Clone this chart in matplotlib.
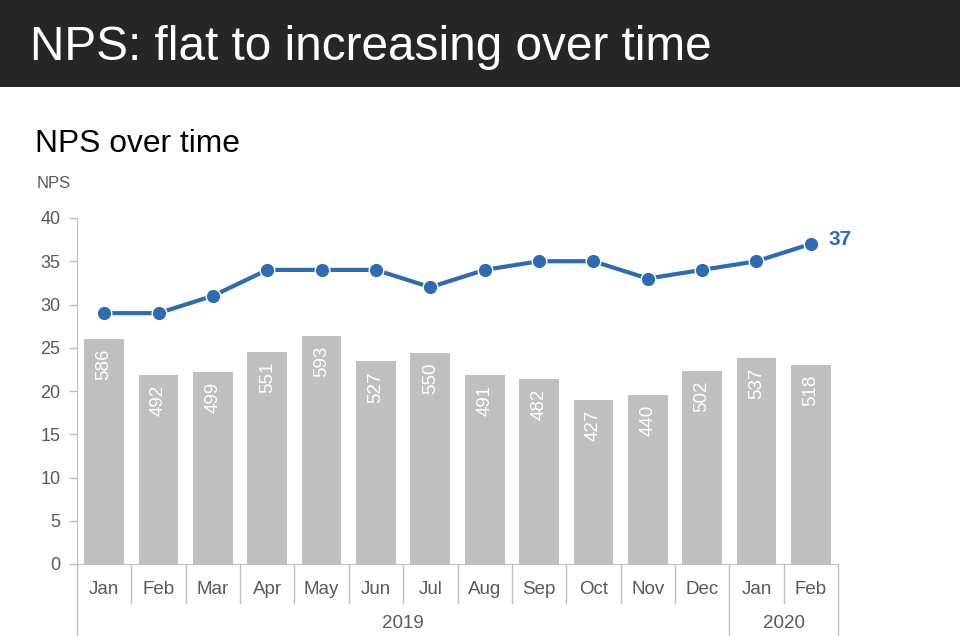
import matplotlib.pyplot as plt
from matplotlib.transforms import blended_transform_factory
from matplotlib.patches import Rectangle

plt.rcParams['font.family'] = ['Liberation Sans', 'DejaVu Sans']

# Data
months = ['Jan', 'Feb', 'Mar', 'Apr', 'May', 'Jun', 'Jul', 'Aug', 'Sep', 'Oct', 'Nov', 'Dec', 'Jan', 'Feb']
nps = [29, 29, 31, 34, 34, 34, 32, 34, 35, 35, 33, 34, 35, 37]
responses = [586, 492, 499, 551, 593, 527, 550, 491, 482, 427, 440, 502, 537, 518]
years = ['2019', '2020']
year_spans = [(0, 12), (12, 14)]  # month index ranges per year

blue = '#2E6BB3'
bar_grey = '#BFBFBF'
axis_grey = '#BFBFBF'
text_grey = '#595959'

fig = plt.figure(figsize=(9.6, 6.36), dpi=100)

# Dark header band
fig.patches.append(Rectangle((0, 1 - 87 / 636), 1, 87 / 636, transform=fig.transFigure,
                             facecolor='#262626', edgecolor='none', zorder=0))
fig.text(30 / 960, 1 - 47 / 636, 'NPS: flat to increasing over time', color='white',
         fontsize=34.4, va='center', ha='left')
fig.text(35 / 960, 1 - 144 / 636, 'NPS over time', color='black', fontsize=22.9,
         va='center', ha='left')
fig.text(37 / 960, 1 - 183 / 636, 'NPS', color=text_grey, fontsize=12, va='center', ha='left')

left, right, bottom, top = 77 / 960, 838 / 960, 1 - 564 / 636, 1 - 218 / 636
ax = fig.add_axes([left, bottom, right - left, top - bottom])
ax2 = ax.twinx()
ax.set_zorder(ax2.get_zorder() + 1)
ax.patch.set_visible(False)

x = list(range(len(months)))

# Bars: response counts on hidden secondary scale
ax2.bar(x, responses, width=0.73, color=bar_grey, edgecolor='none')
ax2.set_ylim(0, 900)
ax2.set_yticks([])
for xi, r in zip(x, responses):
    ax2.annotate(str(r), (xi, r), xytext=(0, -7), textcoords='offset points',
                 rotation=90, ha='center', va='top', color='white', fontsize=13.5)

# Line: NPS
ax.plot(x, nps, color=blue, linewidth=3, marker='o', markersize=10.5,
        markerfacecolor=blue, markeredgecolor='white', markeredgewidth=1, zorder=5)
ax.annotate(str(nps[-1]), (x[-1], nps[-1]), xytext=(13, 3), textcoords='offset points',
            ha='left', va='center', color=blue, fontsize=15, fontweight='bold')

ax.set_xlim(-0.5, len(months) - 0.5)
ax.set_ylim(0, 40)
ax.set_yticks(range(0, 41, 5))
ax.tick_params(axis='y', colors=axis_grey, labelcolor=text_grey, labelsize=13,
               length=6, width=1, pad=6)
ax.set_xticks([])

for a in (ax, ax2):
    for s in ['top', 'right']:
        a.spines[s].set_visible(False)
    a.spines['left'].set_color(axis_grey)
    a.spines['bottom'].set_color(axis_grey)
ax2.spines['left'].set_visible(False)
ax2.spines['bottom'].set_visible(False)

# Category axis: separators, month labels, year labels
trans = blended_transform_factory(ax.transData, ax.transAxes)
year_edges = {s - 0.5 for s, _ in year_spans} | {e - 0.5 for _, e in year_spans}
for i in range(len(months) + 1):
    xb = i - 0.5
    y_end = -0.215 if xb in year_edges else -0.113
    ax.plot([xb, xb], [0, y_end], color=axis_grey, linewidth=1, transform=trans, clip_on=False)
for xi, m in zip(x, months):
    ax.text(xi, -0.075, m, transform=trans, ha='center', va='center', color=text_grey, fontsize=13.5)
for yr, (s, e) in zip(years, year_spans):
    ax.text((s + e - 1) / 2, -0.172, yr, transform=trans, ha='center', va='center',
            color=text_grey, fontsize=13.5)

fig.savefig('out.png', dpi=100)
